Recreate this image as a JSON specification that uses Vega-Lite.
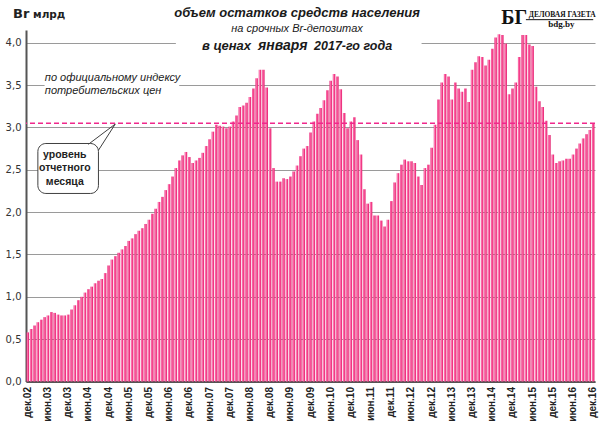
{
 "$schema": "https://vega.github.io/schema/vega-lite/v6.json",
 "width": 569,
 "height": 351.5,
 "autosize": {"type": "none"},
 "padding": {"left": 26, "top": 30, "right": 5, "bottom": 47.5},
 "background": "white",
 "config": {"font": "Liberation Sans", "view": {"stroke": null}},
 "data": {"values": [
  {"m":"дек.02","v":0.58},
  {"m":"янв.03","v":0.62},{"m":"фев.03","v":0.66},{"m":"мар.03","v":0.70},{"m":"апр.03","v":0.73},{"m":"май.03","v":0.76},{"m":"июн.03","v":0.78},{"m":"июл.03","v":0.82},{"m":"авг.03","v":0.81},{"m":"сен.03","v":0.79},{"m":"окт.03","v":0.78},{"m":"ноя.03","v":0.78},{"m":"дек.03","v":0.79},
  {"m":"янв.04","v":0.85},{"m":"фев.04","v":0.90},{"m":"мар.04","v":0.96},{"m":"апр.04","v":1.00},{"m":"май.04","v":1.05},{"m":"июн.04","v":1.09},{"m":"июл.04","v":1.12},{"m":"авг.04","v":1.16},{"m":"сен.04","v":1.19},{"m":"окт.04","v":1.21},{"m":"ноя.04","v":1.28},{"m":"дек.04","v":1.37},
  {"m":"янв.05","v":1.44},{"m":"фев.05","v":1.48},{"m":"мар.05","v":1.52},{"m":"апр.05","v":1.56},{"m":"май.05","v":1.60},{"m":"июн.05","v":1.66},{"m":"июл.05","v":1.69},{"m":"авг.05","v":1.74},{"m":"сен.05","v":1.78},{"m":"окт.05","v":1.81},{"m":"ноя.05","v":1.86},{"m":"дек.05","v":1.91},
  {"m":"янв.06","v":1.98},{"m":"фев.06","v":2.04},{"m":"мар.06","v":2.12},{"m":"апр.06","v":2.18},{"m":"май.06","v":2.26},{"m":"июн.06","v":2.33},{"m":"июл.06","v":2.42},{"m":"авг.06","v":2.52},{"m":"сен.06","v":2.61},{"m":"окт.06","v":2.67},{"m":"ноя.06","v":2.71},{"m":"дек.06","v":2.65},
  {"m":"янв.07","v":2.58},{"m":"фев.07","v":2.61},{"m":"мар.07","v":2.64},{"m":"апр.07","v":2.70},{"m":"май.07","v":2.78},{"m":"июн.07","v":2.86},{"m":"июл.07","v":2.95},{"m":"авг.07","v":3.03},{"m":"сен.07","v":3.02},{"m":"окт.07","v":3.01},{"m":"ноя.07","v":2.99},{"m":"дек.07","v":3.01},
  {"m":"янв.08","v":3.07},{"m":"фев.08","v":3.14},{"m":"мар.08","v":3.24},{"m":"апр.08","v":3.26},{"m":"май.08","v":3.29},{"m":"июн.08","v":3.36},{"m":"июл.08","v":3.46},{"m":"авг.08","v":3.58},{"m":"сен.08","v":3.68},{"m":"окт.08","v":3.68},{"m":"ноя.08","v":3.47},{"m":"дек.08","v":2.99},
  {"m":"янв.09","v":2.52},{"m":"фев.09","v":2.36},{"m":"мар.09","v":2.36},{"m":"апр.09","v":2.40},{"m":"май.09","v":2.39},{"m":"июн.09","v":2.42},{"m":"июл.09","v":2.48},{"m":"авг.09","v":2.55},{"m":"сен.09","v":2.66},{"m":"окт.09","v":2.75},{"m":"ноя.09","v":2.78},{"m":"дек.09","v":2.94},
  {"m":"янв.10","v":3.07},{"m":"фев.10","v":3.16},{"m":"мар.10","v":3.23},{"m":"апр.10","v":3.32},{"m":"май.10","v":3.44},{"m":"июн.10","v":3.55},{"m":"июл.10","v":3.63},{"m":"авг.10","v":3.60},{"m":"сен.10","v":3.45},{"m":"окт.10","v":3.17},{"m":"ноя.10","v":2.99},{"m":"дек.10","v":3.07},
  {"m":"янв.11","v":3.12},{"m":"фев.11","v":2.85},{"m":"мар.11","v":2.68},{"m":"апр.11","v":2.27},{"m":"май.11","v":2.10},{"m":"июн.11","v":2.12},{"m":"июл.11","v":1.96},{"m":"авг.11","v":1.96},{"m":"сен.11","v":1.90},{"m":"окт.11","v":1.83},{"m":"ноя.11","v":1.91},{"m":"дек.11","v":2.13},
  {"m":"янв.12","v":2.35},{"m":"фев.12","v":2.46},{"m":"мар.12","v":2.56},{"m":"апр.12","v":2.62},{"m":"май.12","v":2.60},{"m":"июн.12","v":2.60},{"m":"июл.12","v":2.58},{"m":"авг.12","v":2.42},{"m":"сен.12","v":2.32},{"m":"окт.12","v":2.52},{"m":"ноя.12","v":2.56},{"m":"дек.12","v":2.76},
  {"m":"янв.13","v":3.03},{"m":"фев.13","v":3.33},{"m":"мар.13","v":3.53},{"m":"апр.13","v":3.63},{"m":"май.13","v":3.60},{"m":"июн.13","v":3.33},{"m":"июл.13","v":3.53},{"m":"авг.13","v":3.46},{"m":"сен.13","v":3.42},{"m":"окт.13","v":3.46},{"m":"ноя.13","v":3.30},{"m":"дек.13","v":3.68},
  {"m":"янв.14","v":3.77},{"m":"фев.14","v":3.84},{"m":"мар.14","v":3.83},{"m":"апр.14","v":3.73},{"m":"май.14","v":3.80},{"m":"июн.14","v":3.93},{"m":"июл.14","v":4.06},{"m":"авг.14","v":4.10},{"m":"сен.14","v":4.09},{"m":"окт.14","v":3.99},{"m":"ноя.14","v":3.39},{"m":"дек.14","v":3.46},
  {"m":"янв.15","v":3.53},{"m":"фев.15","v":3.83},{"m":"мар.15","v":4.09},{"m":"апр.15","v":4.09},{"m":"май.15","v":3.98},{"m":"июн.15","v":3.96},{"m":"июл.15","v":3.48},{"m":"авг.15","v":3.31},{"m":"сен.15","v":3.24},{"m":"окт.15","v":3.08},{"m":"ноя.15","v":2.91},{"m":"дек.15","v":2.68},
  {"m":"янв.16","v":2.58},{"m":"фев.16","v":2.60},{"m":"мар.16","v":2.61},{"m":"апр.16","v":2.63},{"m":"май.16","v":2.63},{"m":"июн.16","v":2.68},{"m":"июл.16","v":2.75},{"m":"авг.16","v":2.81},{"m":"сен.16","v":2.87},{"m":"окт.16","v":2.92},{"m":"ноя.16","v":2.97},{"m":"дек.16","v":3.04}
 ]},
 "layer": [
  {"mark": {"type": "bar", "color": {"gradient": "linear", "x1": 0, "y1": 0, "x2": 1, "y2": 0, "stops": [{"offset": 0, "color": "#E62E7B"}, {"offset": 0.3, "color": "#FF7AB4"}, {"offset": 0.6, "color": "#F5408A"}, {"offset": 1, "color": "#E02872"}]}},
   "encoding": {
    "x": {"field": "m", "type": "ordinal", "sort": null, "title": null,
     "scale": {"paddingInner": 0.25, "paddingOuter": 0.15, "domain": [
      "дек.02",
      "янв.03","фев.03","мар.03","апр.03","май.03","июн.03","июл.03","авг.03","сен.03","окт.03","ноя.03","дек.03",
      "янв.04","фев.04","мар.04","апр.04","май.04","июн.04","июл.04","авг.04","сен.04","окт.04","ноя.04","дек.04",
      "янв.05","фев.05","мар.05","апр.05","май.05","июн.05","июл.05","авг.05","сен.05","окт.05","ноя.05","дек.05",
      "янв.06","фев.06","мар.06","апр.06","май.06","июн.06","июл.06","авг.06","сен.06","окт.06","ноя.06","дек.06",
      "янв.07","фев.07","мар.07","апр.07","май.07","июн.07","июл.07","авг.07","сен.07","окт.07","ноя.07","дек.07",
      "янв.08","фев.08","мар.08","апр.08","май.08","июн.08","июл.08","авг.08","сен.08","окт.08","ноя.08","дек.08",
      "янв.09","фев.09","мар.09","апр.09","май.09","июн.09","июл.09","авг.09","сен.09","окт.09","ноя.09","дек.09",
      "янв.10","фев.10","мар.10","апр.10","май.10","июн.10","июл.10","авг.10","сен.10","окт.10","ноя.10","дек.10",
      "янв.11","фев.11","мар.11","апр.11","май.11","июн.11","июл.11","авг.11","сен.11","окт.11","ноя.11","дек.11",
      "янв.12","фев.12","мар.12","апр.12","май.12","июн.12","июл.12","авг.12","сен.12","окт.12","ноя.12","дек.12",
      "янв.13","фев.13","мар.13","апр.13","май.13","июн.13","июл.13","авг.13","сен.13","окт.13","ноя.13","дек.13",
      "янв.14","фев.14","мар.14","апр.14","май.14","июн.14","июл.14","авг.14","сен.14","окт.14","ноя.14","дек.14",
      "янв.15","фев.15","мар.15","апр.15","май.15","июн.15","июл.15","авг.15","сен.15","окт.15","ноя.15","дек.15",
      "янв.16","фев.16","мар.16","апр.16","май.16","июн.16","июл.16","авг.16","сен.16","окт.16","ноя.16","дек.16"]},
     "axis": {"values": ["дек.02","июн.03","дек.03","июн.04","дек.04","июн.05","дек.05","июн.06","дек.06","июн.07","дек.07","июн.08","дек.08","июн.09","дек.09","июн.10","дек.10","июн.11","дек.11","июн.12","дек.12","июн.13","дек.13","июн.14","дек.14","июн.15","дек.15","июн.16","дек.16"],
      "labelAngle": -90, "labelAlign": "right", "labelBaseline": "middle", "labelFont": "Liberation Sans", "labelFontWeight": "bold", "labelFontSize": 10, "labelColor": "#222", "ticks": false, "domainColor": "#555", "domainWidth": 2, "labelPadding": 5, "grid": false}},
    "y": {"field": "v", "type": "quantitative", "title": null,
     "scale": {"domain": [0, 4.15], "nice": false, "zero": true},
     "axis": {"values": [0,0.5,1,1.5,2,2.5,3,3.5,4], "labelExpr": "replace(format(datum.value, '.1f'), '.', ',')", "grid": true, "gridColor": "#9a9a9a", "gridWidth": 1, "domainColor": "#555", "domainWidth": 2, "ticks": false, "labelFont": "DejaVu Sans", "labelFontSize": 10, "labelColor": "#333", "labelPadding": 5}}
   }},
  {"data": {"values": [{}]}, "mark": {"type": "rect", "fill": "white"},
   "encoding": {"x": {"datum": "авг.06", "type": "ordinal", "title": null}, "x2": {"datum": "сен.12"}, "y": {"datum": 4.15, "type": "quantitative", "title": null}, "y2": {"datum": 3.82}}},
  {"data": {"values": [{}]}, "mark": {"type": "rect", "fill": "white"},
   "encoding": {"x": {"datum": "май.03", "type": "ordinal", "title": null}, "x2": {"datum": "сен.06"}, "y": {"datum": 3.62, "type": "quantitative", "title": null}, "y2": {"datum": 3.33}}},
  {"data": {"values": [{}]}, "mark": {"type": "rule", "color": "#F0288C", "strokeDash": [5, 3], "strokeWidth": 1.5},
   "encoding": {"y": {"datum": 3.05, "type": "quantitative", "title": null}}},
  {"data": {"values": [{}]}, "mark": {"type": "rect", "fill": "white", "stroke": "#404040", "strokeWidth": 1, "cornerRadius": 8},
   "encoding": {"x": {"datum": "мар.03", "type": "ordinal", "title": null}, "x2": {"datum": "сен.04"}, "y": {"datum": 2.81, "type": "quantitative", "title": null}, "y2": {"datum": 2.22}}},
  {"data": {"values": [{}]}, "mark": {"type": "rule", "color": "#404040", "strokeWidth": 1},
   "encoding": {"x": {"datum": "июн.04", "type": "ordinal", "title": null}, "x2": {"datum": "фев.05"}, "y": {"datum": 2.80, "type": "quantitative", "title": null}, "y2": {"datum": 3.04}}},
  {"data": {"values": [{}]}, "mark": {"type": "rule", "color": "#404040", "strokeWidth": 1},
   "encoding": {"x": {"datum": "сен.04", "type": "ordinal", "title": null}, "x2": {"datum": "фев.05"}, "y": {"datum": 2.73, "type": "quantitative", "title": null}, "y2": {"datum": 3.04}}},
  {"data": {"values": [{}]}, "mark": {"type": "rule", "color": "#111", "strokeWidth": 1},
   "encoding": {"x": {"datum": "апр.15", "type": "ordinal", "title": null}, "x2": {"datum": "дек.16"}, "y": {"datum": 4.272, "type": "quantitative", "title": null}, "y2": {"datum": 4.272}}},
  {"data": {"values": [{}]}, "mark": {"type": "text", "text": "Br", "font": "DejaVu Sans", "fontSize": 13, "fontWeight": "bold", "align": "left", "baseline": "alphabetic", "dx": -14.7, "color": "#222"},
   "encoding": {"x": {"datum": "дек.02", "type": "ordinal", "title": null}, "y": {"datum": 4.286, "type": "quantitative", "title": null}}},
  {"data": {"values": [{}]}, "mark": {"type": "text", "text": "млрд", "font": "DejaVu Sans", "fontSize": 10.5, "fontWeight": "bold", "align": "left", "baseline": "alphabetic", "dx": 5.3, "color": "#222"},
   "encoding": {"x": {"datum": "дек.02", "type": "ordinal", "title": null}, "y": {"datum": 4.286, "type": "quantitative", "title": null}}},
  {"data": {"values": [{}]}, "mark": {"type": "text", "text": "объем  остатков  средств  населения", "fontSize": 13, "fontWeight": "bold", "fontStyle": "italic", "align": "center", "baseline": "alphabetic", "color": "#1a1a1a"},
   "encoding": {"x": {"datum": "авг.09", "type": "ordinal", "title": null}, "y": {"datum": 4.30, "type": "quantitative", "title": null}}},
  {"data": {"values": [{}]}, "mark": {"type": "text", "text": "на срочных Br-депозитах", "fontSize": 11, "fontStyle": "italic", "align": "center", "baseline": "alphabetic", "color": "#1a1a1a"},
   "encoding": {"x": {"datum": "авг.09", "type": "ordinal", "title": null}, "y": {"datum": 4.13, "type": "quantitative", "title": null}}},
  {"data": {"values": [{}]}, "mark": {"type": "text", "text": "в ценах", "fontSize": 13, "fontWeight": "bold", "fontStyle": "italic", "align": "right", "baseline": "alphabetic", "dx": -46, "color": "#1a1a1a"},
   "encoding": {"x": {"datum": "авг.09", "type": "ordinal", "title": null}, "y": {"datum": 3.91, "type": "quantitative", "title": null}}},
  {"data": {"values": [{}]}, "mark": {"type": "text", "text": "января", "fontSize": 14, "fontWeight": "bold", "fontStyle": "italic", "align": "left", "baseline": "alphabetic", "dx": -39, "color": "#1a1a1a"},
   "encoding": {"x": {"datum": "авг.09", "type": "ordinal", "title": null}, "y": {"datum": 3.91, "type": "quantitative", "title": null}}},
  {"data": {"values": [{}]}, "mark": {"type": "text", "text": "2017-го года", "fontSize": 12.5, "fontWeight": "bold", "fontStyle": "italic", "align": "left", "baseline": "alphabetic", "dx": 17, "color": "#1a1a1a"},
   "encoding": {"x": {"datum": "авг.09", "type": "ordinal", "title": null}, "y": {"datum": 3.91, "type": "quantitative", "title": null}}},
  {"data": {"values": [{}]}, "mark": {"type": "text", "text": "по официальному индексу", "fontSize": 11, "fontStyle": "italic", "align": "left", "baseline": "alphabetic", "dx": 7, "color": "#222"},
   "encoding": {"x": {"datum": "мар.03", "type": "ordinal", "title": null}, "y": {"datum": 3.55, "type": "quantitative", "title": null}}},
  {"data": {"values": [{}]}, "mark": {"type": "text", "text": "потребительских цен", "fontSize": 11, "fontStyle": "italic", "align": "left", "baseline": "alphabetic", "dx": 7, "color": "#222"},
   "encoding": {"x": {"datum": "мар.03", "type": "ordinal", "title": null}, "y": {"datum": 3.39, "type": "quantitative", "title": null}}},
  {"data": {"values": [{}]}, "mark": {"type": "text", "text": "уровень", "fontSize": 10.5, "fontWeight": "bold", "align": "center", "baseline": "alphabetic", "color": "#222"},
   "encoding": {"x": {"datum": "ноя.03", "type": "ordinal", "title": null}, "y": {"datum": 2.634, "type": "quantitative", "title": null}}},
  {"data": {"values": [{}]}, "mark": {"type": "text", "text": "отчетного", "fontSize": 10.5, "fontWeight": "bold", "align": "center", "baseline": "alphabetic", "color": "#222"},
   "encoding": {"x": {"datum": "ноя.03", "type": "ordinal", "title": null}, "y": {"datum": 2.484, "type": "quantitative", "title": null}}},
  {"data": {"values": [{}]}, "mark": {"type": "text", "text": "месяца", "fontSize": 10.5, "fontWeight": "bold", "align": "center", "baseline": "alphabetic", "color": "#222"},
   "encoding": {"x": {"datum": "ноя.03", "type": "ordinal", "title": null}, "y": {"datum": 2.315, "type": "quantitative", "title": null}}},
  {"data": {"values": [{}]}, "mark": {"type": "text", "text": "БГ", "font": "Liberation Serif", "fontSize": 20, "fontWeight": "bold", "align": "left", "baseline": "alphabetic", "dx": -65, "color": "#111"},
   "encoding": {"x": {"datum": "апр.16", "type": "ordinal", "title": null}, "y": {"datum": 4.215, "type": "quantitative", "title": null}}},
  {"data": {"values": [{}]}, "mark": {"type": "text", "text": "ДЕЛОВАЯ ГАЗЕТА", "font": "Liberation Serif", "fontSize": 7.5, "fontWeight": "bold", "align": "center", "baseline": "alphabetic", "dx": -4, "color": "#111"},
   "encoding": {"x": {"datum": "апр.16", "type": "ordinal", "title": null}, "y": {"datum": 4.30, "type": "quantitative", "title": null}}},
  {"data": {"values": [{}]}, "mark": {"type": "text", "text": "bdg.by", "font": "Liberation Serif", "fontSize": 9, "fontWeight": "bold", "align": "center", "baseline": "alphabetic", "dx": -5, "color": "#111"},
   "encoding": {"x": {"datum": "апр.16", "type": "ordinal", "title": null}, "y": {"datum": 4.18, "type": "quantitative", "title": null}}}
 ]
}
